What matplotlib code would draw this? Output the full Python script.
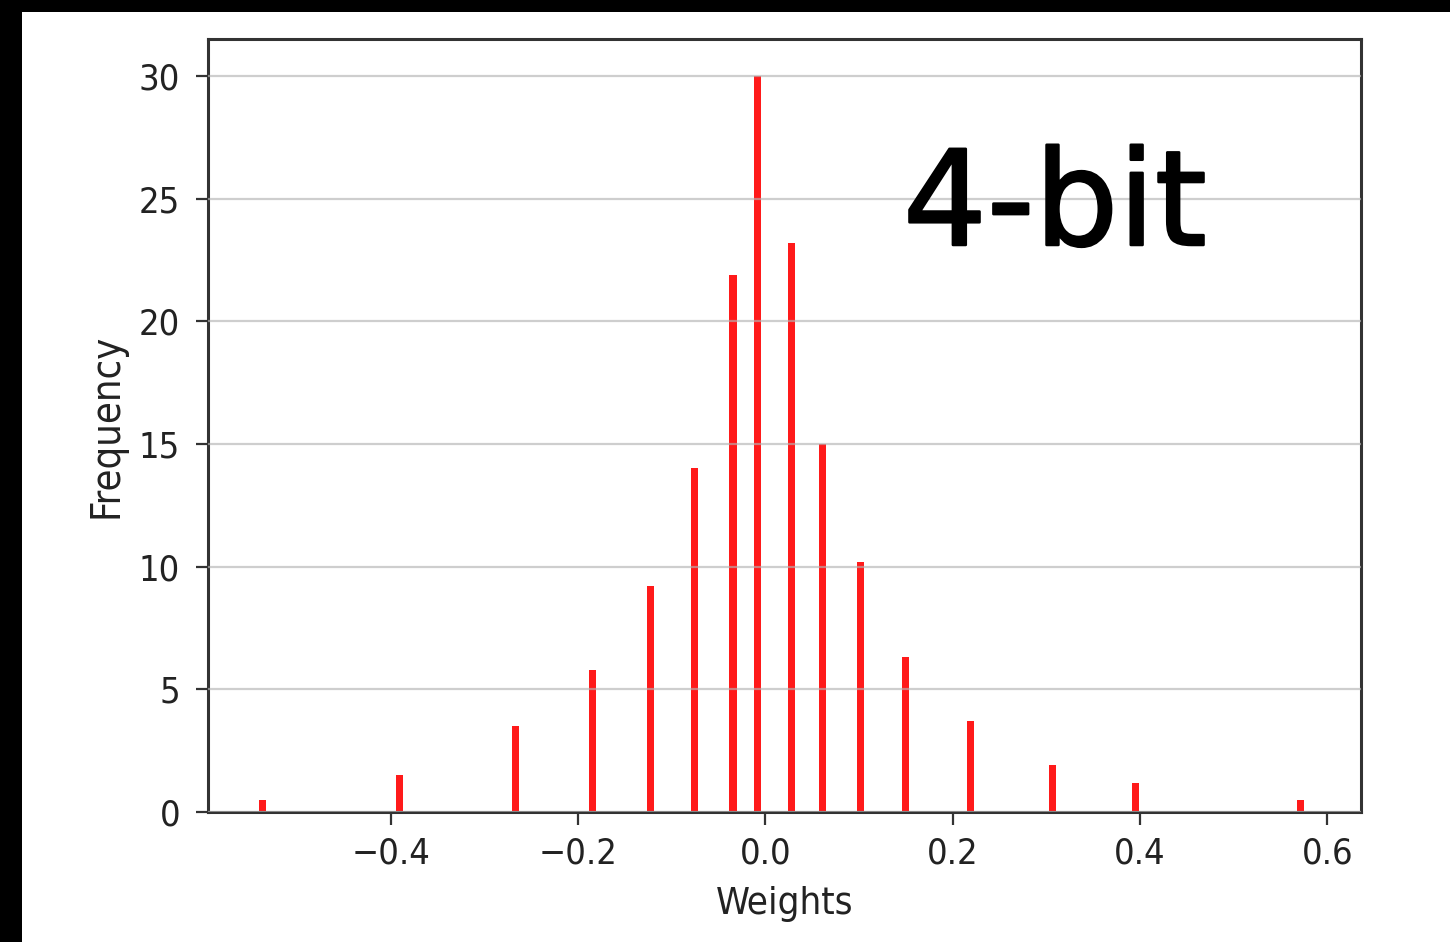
import matplotlib
matplotlib.use("Agg")
import matplotlib.pyplot as plt
import matplotlib.patheffects as pe
from matplotlib.patches import Rectangle

# Quantized weight levels and how often each occurs
weights = [-0.5376, -0.391, -0.2665, -0.185, -0.1226, -0.0753, -0.0347, -0.0088,
           0.028, 0.0607, 0.1017, 0.1493, 0.2187, 0.307, 0.395, 0.5716]
frequency = [0.5, 1.5, 3.5, 5.8, 9.2, 14.0, 21.9, 30.0,
             23.2, 15.0, 10.2, 6.3, 3.7, 1.9, 1.2, 0.5]

x_ticks = [-0.4, -0.2, 0.0, 0.2, 0.4, 0.6]
y_ticks = [0, 5, 10, 15, 20, 25, 30]
bit_label = "4-bit"

W, H = 1450, 942
fig = plt.figure(figsize=(W / 100, H / 100), dpi=100, facecolor="black")
# white canvas inside the black border on the left and top
fig.add_artist(Rectangle((22 / W, 0), 1 - 22 / W, 1 - 12 / H,
                         transform=fig.transFigure, facecolor="white",
                         edgecolor="none", zorder=0))

ax = fig.add_axes([208 / W, 1 - 812 / H, (1361 - 208) / W, (812 - 39) / H])
ax.set_facecolor("white")

ax.bar(weights, frequency, width=0.0075, color="#ff1a1a", linewidth=0, zorder=2)

ax.set_xlim(-0.5954, 0.636)
ax.set_ylim(0, 31.5)
ax.set_xticks(x_ticks)
ax.set_yticks(y_ticks)

ax.yaxis.grid(True, color="#b4b4b4", linewidth=1.6, alpha=0.65, zorder=3)
ax.set_axisbelow(False)

for sp in ax.spines.values():
    sp.set_linewidth(2.2)
    sp.set_color("#333333")

font_kw = dict(family="DejaVu Sans", stretch="condensed")
ax.tick_params(axis="both", length=9, width=1.6, color="#333333",
               labelsize=26, labelcolor="#222222")
ax.tick_params(axis="x", pad=9)
ax.tick_params(axis="y", pad=11)
for lab in ax.get_xticklabels() + ax.get_yticklabels():
    lab.set_fontstretch("condensed")

ax.set_xlabel("Weights", fontsize=27.5, color="#222222", labelpad=11, **font_kw)
ax.set_ylabel("Frequency", fontsize=28.5, color="#222222", labelpad=9, **font_kw)

fig.text(903 / W, 1 - 245 / H, bit_label, fontsize=95, fontweight="normal",
         family="DejaVu Sans", color="black", ha="left", va="baseline",
         path_effects=[pe.withStroke(linewidth=1.8, foreground="black")])

fig.savefig("out.png", dpi=100, facecolor=fig.get_facecolor())
